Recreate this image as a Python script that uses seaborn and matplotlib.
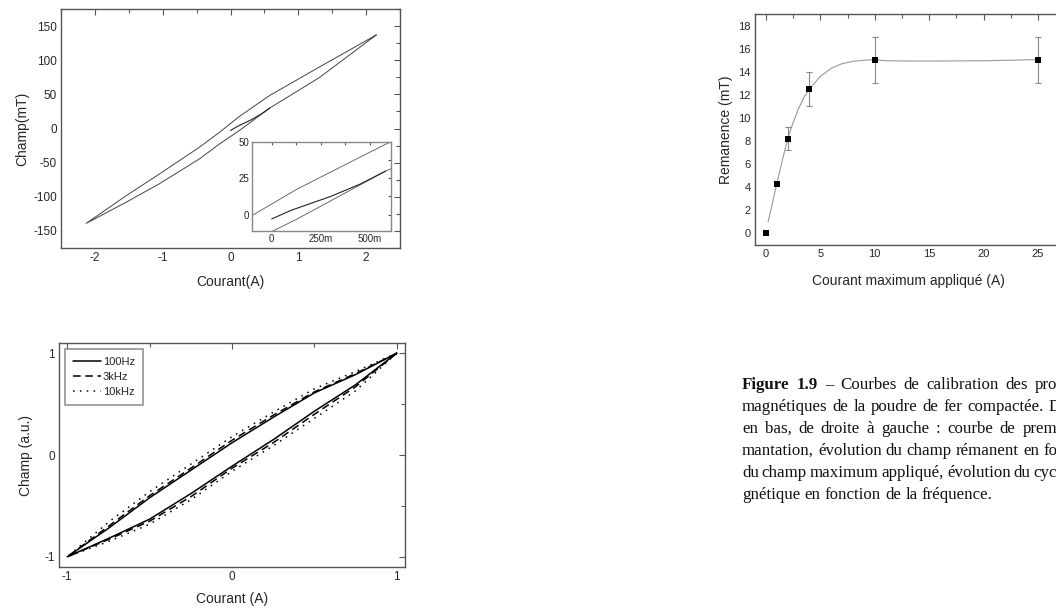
import matplotlib
matplotlib.use("Agg")
import matplotlib.pyplot as plt
from matplotlib.ticker import MultipleLocator, FixedLocator
import pandas as pd
import seaborn as sns

# --- cycle + premiere aimantation (haut gauche), Courant (A) / Champ (mT)
courant_desc = [2.15, 1.31, 0.58, 0.13, -0.16, -0.46, -1.05, -1.54, -2.13]
champ_desc = [137, 90, 48.5, 17.6, -5.4, -27.5, -66.7, -98.5, -139]
courant_mont = [-2.13, -1.54, -1.05, -0.46, -0.16, 0.13, 0.58, 1.31, 2.15]
champ_mont = [-139, -108, -81, -44.6, -22.5, -3, 30, 74.5, 137]
courant_vierge = [0.0, 0.1, 0.3, 0.45, 0.58]
champ_vierge = [-3, 3, 12.5, 21, 30]

# --- remanence (haut droite)
courant_max = [0, 1, 2, 4, 10, 25]
remanence = [0, 4.25, 8.2, 12.5, 15, 15]
remanence_err = [0, 0, 1, 1.5, 2, 2]
fit_x = [0.2, 0.5, 1, 1.5, 2, 2.5, 3, 3.5, 4, 5, 6, 7, 8, 9, 10, 11, 13, 16, 20, 25]
fit_y = [1.0, 2.2, 4.3, 6.3, 8.2, 9.6, 10.8, 11.8, 12.5, 13.6, 14.3, 14.7, 14.9,
         15.0, 15.05, 14.95, 14.93, 14.93, 14.95, 15.05]

# --- cycles normalises (bas gauche)
frequences = ["100Hz", "3kHz", "10kHz"]
x_desc = [1.0, 0.75, 0.5, 0.25, 0.0, -0.25, -0.5, -0.75, -1.0]
x_mont = [-1.0, -0.75, -0.5, -0.25, 0.0, 0.25, 0.5, 0.75, 1.0]
y_desc_100 = [1.0, 0.79, 0.61, 0.37, 0.12, -0.15, -0.42, -0.72, -1.0]
y_mont_100 = [-1.0, -0.82, -0.63, -0.38, -0.11, 0.15, 0.43, 0.69, 1.0]
y_desc_3k = [1.0, 0.80, 0.62, 0.39, 0.145, -0.13, -0.40, -0.70, -1.0]
y_mont_3k = [-1.0, -0.83, -0.65, -0.41, -0.13, 0.12, 0.40, 0.67, 1.0]
y_desc_10k = [1.0, 0.82, 0.65, 0.42, 0.18, -0.09, -0.36, -0.66, -1.0]
y_mont_10k = [-1.0, -0.85, -0.68, -0.44, -0.16, 0.09, 0.36, 0.63, 1.0]

# legende (coupee au bord droit comme sur la page)
caption = [
    "Figure 1.9 – Courbes de calibration des pro",
    "magnétiques de la poudre de fer compactée. D",
    "en bas, de droite à gauche : courbe de prem",
    "mantation, évolution du champ rémanent en fo",
    "du champ maximum appliqué, évolution du cyc",
    "gnétique en fonction de la fréquence.",
]

sns.set_style("white")
plt.rcParams['font.family'] = ['Liberation Sans', 'DejaVu Sans']
plt.rcParams['axes.unicode_minus'] = False

W, H = 1056, 613
fig = plt.figure(figsize=(W / 100, H / 100), dpi=100)


def box(l, t, r, b):
    return [l / W, 1 - b / H, (r - l) / W, (b - t) / H]


def style(ax, size=8.5):
    for s in ax.spines.values():
        s.set_color('#555555')
        s.set_linewidth(1.0)
    ax.tick_params(which='both', direction='in', top=True, right=True,
                   color='#555555', labelsize=size, pad=3)
    ax.tick_params(which='major', length=4, width=0.8)
    ax.tick_params(which='minor', length=3, width=0.8)


# ---------- haut gauche
ax1 = fig.add_axes(box(61, 9, 400, 248))
loop = pd.DataFrame({"courant": courant_desc + courant_mont,
                     "champ": champ_desc + champ_mont})
vierge = pd.DataFrame({"courant": courant_vierge, "champ": champ_vierge})
sns.lineplot(data=loop, x="courant", y="champ", sort=False, estimator=None,
             color="#444444", lw=0.7, ax=ax1)
sns.lineplot(data=vierge, x="courant", y="champ", sort=False, estimator=None,
             color="#222222", lw=0.8, ax=ax1)
ax1.set_xlim(-2.5, 2.5)
ax1.set_ylim(-175, 175)
ax1.xaxis.set_major_locator(MultipleLocator(1))
ax1.xaxis.set_minor_locator(MultipleLocator(0.5))
ax1.yaxis.set_major_locator(MultipleLocator(50))
ax1.yaxis.set_minor_locator(MultipleLocator(25))
ax1.set_xlabel("Courant(A)", fontsize=10, labelpad=8)
ax1.set_ylabel("Champ(mT)", fontsize=10, labelpad=3)
style(ax1)

# inset
axi = fig.add_axes(box(252, 142, 391, 231))
sns.lineplot(data=loop, x="courant", y="champ", sort=False, estimator=None,
             color="#555555", lw=0.6, ax=axi)
sns.lineplot(data=vierge, x="courant", y="champ", sort=False, estimator=None,
             color="#222222", lw=0.8, ax=axi)
axi.set_xlim(-0.1, 0.607)
axi.set_ylim(-11.3, 50)
axi.xaxis.set_major_locator(FixedLocator([0, 0.25, 0.5]))
axi.set_xticklabels(["0", "250m", "500m"])
axi.xaxis.set_minor_locator(MultipleLocator(0.125))
axi.yaxis.set_major_locator(FixedLocator([0, 25, 50]))
axi.yaxis.set_minor_locator(MultipleLocator(12.5))
axi.set_xlabel("")
axi.set_ylabel("")
style(axi, size=7)
axi.tick_params(which='both', length=2, pad=2)
for s in axi.spines.values():
    s.set_color('#888888')

# ---------- haut droite
ax2 = fig.add_axes(box(755, 14, 1062, 245))
fit = pd.DataFrame({"x": fit_x, "y": fit_y})
sns.lineplot(data=fit, x="x", y="y", sort=False, estimator=None,
             color="#999999", lw=0.8, ax=ax2)
ex = [c for c, e in zip(courant_max, remanence_err) if e > 0]
ey = [r for r, e in zip(remanence, remanence_err) if e > 0]
ee = [e for e in remanence_err if e > 0]
ax2.errorbar(ex, ey, yerr=ee, fmt='none', ecolor='#888888', elinewidth=0.8,
             capsize=2.5, capthick=0.8)
pts = pd.DataFrame({"x": courant_max, "y": remanence})
sns.scatterplot(data=pts, x="x", y="y", marker='s', s=18, color='black',
                edgecolor='black', linewidth=0, ax=ax2, zorder=5)
ax2.set_xlim(-1, 27.2)
ax2.set_ylim(-1, 19)
ax2.xaxis.set_major_locator(MultipleLocator(5))
ax2.xaxis.set_minor_locator(MultipleLocator(2.5))
ax2.yaxis.set_major_locator(MultipleLocator(2))
ax2.yaxis.set_minor_locator(MultipleLocator(1))
ax2.set_xlabel("Courant maximum appliqué (A)", fontsize=10, labelpad=11)
ax2.set_ylabel("Remanence (mT)", fontsize=10, labelpad=4)
style(ax2, size=8)

# ---------- bas gauche
ax3 = fig.add_axes(box(59, 343, 405, 567))
rows = []
for f, yd, ym in zip(frequences, [y_desc_100, y_desc_3k, y_desc_10k],
                     [y_mont_100, y_mont_3k, y_mont_10k]):
    for xv, yv in zip(x_desc + x_mont, yd + ym):
        rows.append({"courant": xv, "champ": yv, "freq": f})
cyc = pd.DataFrame(rows)
sns.lineplot(data=cyc, x="courant", y="champ", hue="freq", style="freq",
             sort=False, estimator=None, palette=["black"] * 3,
             dashes={"100Hz": "", "3kHz": (5, 3), "10kHz": (1, 3.5)},
             lw=1.1, ax=ax3)
ax3.set_xlim(-1.05, 1.05)
ax3.set_ylim(-1.1, 1.1)
ax3.xaxis.set_major_locator(MultipleLocator(1))
ax3.xaxis.set_minor_locator(MultipleLocator(0.5))
ax3.yaxis.set_major_locator(MultipleLocator(1))
ax3.yaxis.set_minor_locator(MultipleLocator(0.5))
ax3.set_xlabel("Courant (A)", fontsize=10, labelpad=6)
ax3.set_ylabel("Champ (a.u.)", fontsize=10, labelpad=8)
style(ax3)
h, l = ax3.get_legend_handles_labels()
leg = ax3.legend(h, l, loc='upper left', fontsize=8, frameon=True,
                 fancybox=False, edgecolor='#777777', handlelength=2.5,
                 handletextpad=0.2, labelspacing=0.45, borderpad=0.7,
                 borderaxespad=0.55)
leg.get_frame().set_linewidth(1.2)

# ---------- legende de la figure, justifiee jusqu'au bord
fx = 742
fy = 389
lh = 22
fs = 12.2
rend = fig.canvas.get_renderer()
for i, line in enumerate(caption):
    y = 1 - (fy + lh * i) / H
    words = line.split(" ")
    objs = []
    for k, w in enumerate(words):
        bold = (i == 0 and k < 2)
        objs.append(fig.text(0, y, w, fontsize=fs, family=['Liberation Serif'],
                             color='#111111',
                             weight='bold' if bold else 'normal', va='baseline'))
    widths = [o.get_window_extent(renderer=rend).width for o in objs]
    sp = fig.text(0, 0, "a a", fontsize=fs, family=['Liberation Serif'])
    sp2 = fig.text(0, 0, "aa", fontsize=fs, family=['Liberation Serif'])
    space = (sp.get_window_extent(renderer=rend).width
             - sp2.get_window_extent(renderer=rend).width)
    sp.remove()
    sp2.remove()
    if i < len(caption) - 1:
        right = 1061 if line.endswith(" D") else 1057
        gap = max((right - fx - sum(widths)) / (len(words) - 1), space * 0.7)
    else:
        gap = space
    x = fx
    for o, wd in zip(objs, widths):
        o.set_x(x / W)
        x += wd + gap

fig.savefig("out.png", dpi=100)
